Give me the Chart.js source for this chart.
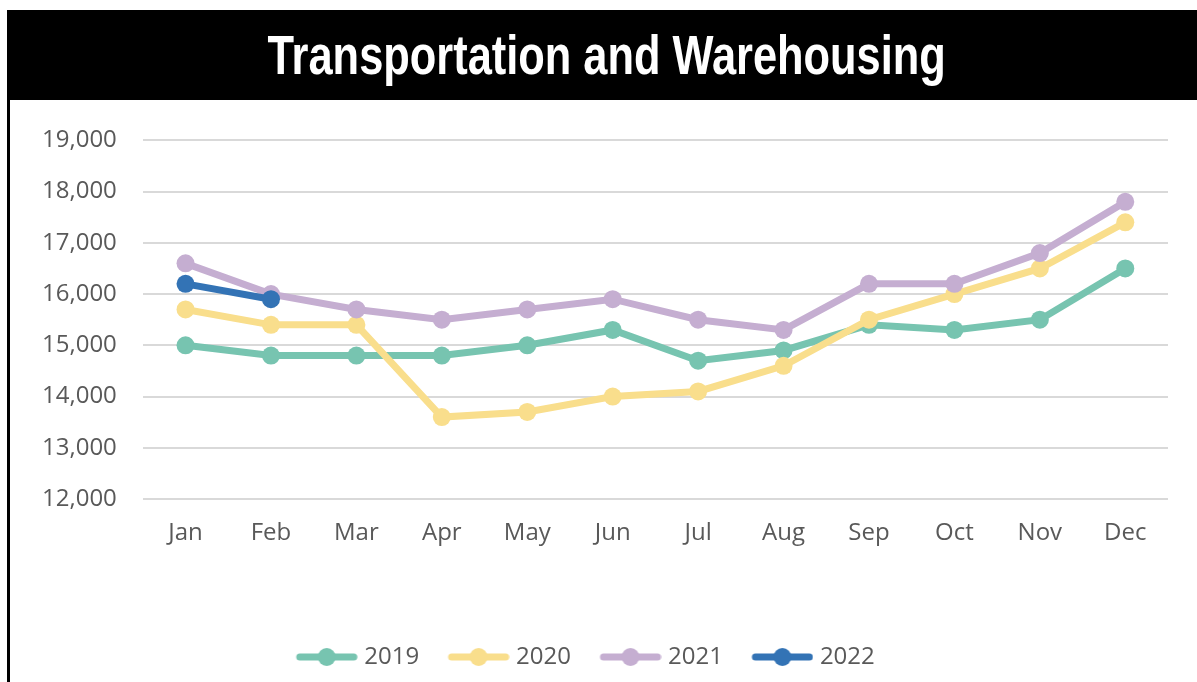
<!DOCTYPE html>
<html>
<head>
<meta charset="utf-8">
<script src="https://cdn.jsdelivr.net/npm/chart.js@4.4.1/dist/chart.umd.min.js"></script>
<style>
    html, body { margin: 0; padding: 0; background: #fff; }
    #frame { position: absolute; left: 7px; top: 10px; width: 1190px; height: 672px; }
    #header {
        height: 90px; background: #000; color: #fff; text-align: center;
        font-family: "Liberation Sans", Arial, sans-serif;
        font-weight: bold; font-size: 56px; line-height: 90px; white-space: nowrap;
    }
    #header span { display: inline-block; transform: translateX(5px) scaleX(0.775); transform-origin: center; }
    #body { position: relative; height: 582px; border-left: 3px solid #000; }
    #wrap { position: absolute; left: 0; top: 0; width: 1187px; height: 582px; }
</style>
</head>
<body>
<div id="frame">
    <div id="header"><span>Transportation and Warehousing</span></div>
    <div id="body"><div id="wrap"><canvas id="twChart"></canvas></div></div>
</div>
<script>
var months = ['Jan', 'Feb', 'Mar', 'Apr', 'May', 'Jun', 'Jul', 'Aug', 'Sep', 'Oct', 'Nov', 'Dec'];
var y2019 = [15000, 14800, 14800, 14800, 15000, 15300, 14700, 14900, 15400, 15300, 15500, 16500];
var y2020 = [15700, 15400, 15400, 13600, 13700, 14000, 14100, 14600, 15500, 16000, 16500, 17400];
var y2021 = [16600, 16000, 15700, 15500, 15700, 15900, 15500, 15300, 16200, 16200, 16800, 17800];
var y2022 = [16200, 15900];
var yTicks = [12000, 13000, 14000, 15000, 16000, 17000, 18000, 19000];

var textGray = '#595959';

// legend swatch: thick line with a dot, pushed right so it sits close to the text
function legendIcon(color) {
    var c = document.createElement('canvas');
    c.width = 76; c.height = 20;
    var g = c.getContext('2d');
    g.strokeStyle = color;
    g.lineWidth = 7;
    g.lineCap = 'round';
    g.beginPath();
    g.moveTo(18, 10);
    g.lineTo(72, 10);
    g.stroke();
    g.fillStyle = color;
    g.beginPath();
    g.arc(45, 10, 9, 0, Math.PI * 2);
    g.fill();
    return c;
}

function series(label, data, color, order) {
    return {
        label: label,
        data: data,
        borderColor: color,
        backgroundColor: color,
        borderWidth: 7,
        pointRadius: 9,
        pointHoverRadius: 9,
        pointBorderWidth: 0,
        tension: 0,
        fill: false,
        order: order
    };
}

// nudge the centred legend a little to the left
var legendShift = {
    id: 'legendShift',
    afterLayout: function (chart) {
        if (chart.legend) chart.legend.right -= 22;
    }
};

var ctx = document.getElementById('twChart').getContext('2d');
var twChart = new Chart(ctx, {
    type: 'line',
    data: {
        labels: months,
        datasets: [
            series('2019', y2019, '#77C4B0', 4),
            series('2020', y2020, '#F9DE8C', 3),
            series('2021', y2021, '#C5AED1', 2),
            series('2022', y2022, '#3373B5', 1)
        ]
    },
    plugins: [legendShift],
    options: {
        responsive: true,
        maintainAspectRatio: false,
        animation: false,
        layout: {
            padding: { left: 6, right: 29, top: 18, bottom: 3 }
        },
        scales: {
            y: {
                min: yTicks[0],
                max: yTicks[yTicks.length - 1],
                afterBuildTicks: function (scale) {
                    scale.ticks = yTicks.map(function (v) { return { value: v }; });
                },
                border: { display: false },
                grid: { color: '#d9d9d9', lineWidth: 2, drawTicks: false },
                ticks: {
                    color: textGray,
                    padding: 26,
                    font: { family: 'Open Sans', size: 24 },
                    callback: function (v) { return v.toLocaleString('en-US'); }
                }
            },
            x: {
                offset: true,
                border: { display: false },
                grid: { display: false, drawTicks: false },
                ticks: {
                    color: textGray,
                    padding: 20,
                    font: { family: 'Open Sans', size: 24 }
                },
                afterFit: function (scale) { scale.height = 126; }
            }
        },
        plugins: {
            legend: {
                position: 'bottom',
                labels: {
                    color: textGray,
                    usePointStyle: true,
                    pointStyleWidth: 65,
                    boxHeight: 20,
                    padding: 20,
                    font: { family: 'Open Sans', size: 24 },
                    generateLabels: function (chart) {
                        return chart.data.datasets.map(function (ds, i) {
                            return {
                                text: ds.label,
                                pointStyle: legendIcon(ds.borderColor),
                                fillStyle: ds.borderColor,
                                strokeStyle: ds.borderColor,
                                lineWidth: 0,
                                fontColor: textGray,
                                hidden: false,
                                datasetIndex: i
                            };
                        });
                    }
                }
            },
            tooltip: { enabled: false }
        }
    }
});
</script>
</body>
</html>
